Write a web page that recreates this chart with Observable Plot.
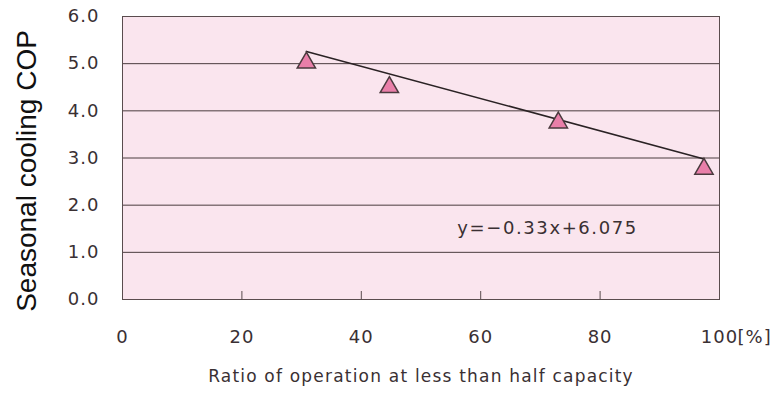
<!DOCTYPE html>
<html><head><meta charset="utf-8">
<script src="https://cdn.jsdelivr.net/npm/d3@7"></script>
<script src="https://cdn.jsdelivr.net/npm/@observablehq/plot@0.6"></script>
<style>body{margin:0;background:#fff}</style>
</head><body><div id="chart"></div>
<script>
// Data
const ratio = [30.8, 44.7, 73.0, 97.4];
const cop = [5.02, 4.50, 3.75, 2.77];
const fitX = [30.8, 97.4];
const fitY = [5.26, 2.98];
const yTicks = [0, 1, 2, 3, 4, 5, 6];
const yGrid = [1, 2, 3, 4, 5];
const xTicks = [0, 20, 40, 60, 80, 100];
const xInnerTicks = [20, 40, 60, 80];
const xUnit = "[%]";
const yTitle = "Seasonal cooling COP";
const xTitle = "Ratio of operation at less than half capacity";
const equation = "y=−0.33x+6.075";
const eqX = [71.2];
const eqY = [1.51];

const points = ratio.map((x, i) => ({x, y: cop[i]}));
const fit = fitX.map((x, i) => ({x, y: fitY[i]}));
const ink = "#3a3033";
const font = "DejaVu Sans";

const chart = Plot.plot({
  width: 776, height: 394,
  marginLeft: 122, marginRight: 57, marginTop: 16, marginBottom: 95,
  x: {domain: [0, 100]},
  y: {domain: [0, 6]},
  style: {fontFamily: font, color: ink, background: "#fff"},
  marks: [
    Plot.frame({fill: "#fae5ee"}),
    Plot.ruleY(yGrid, {stroke: "#4a3c3e", strokeWidth: 1}),
    Plot.axisX(xInnerTicks, {tickSize: -8, text: null, stroke: "#5a4c4e", label: null}),
    Plot.axisX(xTicks, {tickSize: 0, tickPadding: 31, fontSize: 18, fill: ink, label: null}),
    Plot.axisY(yTicks, {tickSize: 0, tickPadding: 23, tickFormat: d3.format(".1f"), fontSize: 18, fill: ink, label: null}),
    Plot.line(fit, {x: "x", y: "y", stroke: "#2a2224", strokeWidth: 1.6}),
    Plot.dot(points, {x: "x", y: "y", symbol: "triangle", r: 6.8, fill: "#e97fa9", stroke: "#4a3a3e", strokeWidth: 1.5}),
    Plot.text([equation], {x: eqX, y: eqY, text: d => d, fontSize: 18, fill: ink}),
    Plot.text([xUnit], {x: [100], y: [0], text: d => d, textAnchor: "start", dx: 18, dy: 38, fontSize: 18, fill: ink}),
    Plot.text([xTitle], {frameAnchor: "bottom", text: d => d, dy: 82, fontSize: 17, fill: ink}),
    Plot.text([yTitle], {frameAnchor: "left", textAnchor: "middle", text: d => d, dx: -95, dy: 13, rotate: -90, fontSize: 28, fontFamily: "Liberation Sans", fill: "#111"}),
    Plot.frame({stroke: "#5a4c4e"})
  ]
});
const svg = d3.select(chart);
const spacing = (txt, ls) => svg.selectAll("text").filter(function() { return this.textContent === txt; }).style("letter-spacing", ls);
svg.selectAll("g[aria-label='x-axis tick label'] text").style("letter-spacing", "1px");
svg.selectAll("g[aria-label='y-axis tick label'] text").style("letter-spacing", "1px");
spacing(equation, "1.6px");
spacing(xUnit, "1px");
spacing(xTitle, "1.2px");
document.getElementById("chart").appendChild(chart);
</script>
</body></html>
